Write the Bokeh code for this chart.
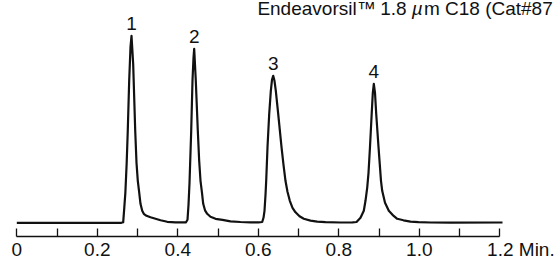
from bokeh.plotting import figure
from bokeh.models import Range1d, FixedTicker, Label, ColumnDataSource
from bokeh.core.properties import value
from bokeh.embed import file_html
from bokeh.resources import INLINE

# ---- data (time in min, signal in arbitrary units) ----
trace_time = [
    0.000, 0.100, 0.200, 0.260,
    0.2643, 0.2670, 0.2697, 0.2730, 0.2757, 0.2792, 0.2825, 0.2850,
    0.2891, 0.2942, 0.2974, 0.3006, 0.3036, 0.3073, 0.3116, 0.3155,
    0.3222, 0.3322, 0.3446, 0.3571, 0.3737, 0.3943, 0.4140,
    0.4204, 0.4241, 0.4266, 0.4291, 0.4333, 0.4365, 0.4390, 0.4407,
    0.4447, 0.4497, 0.4531, 0.4564, 0.4601, 0.4631, 0.4676, 0.4730,
    0.4812, 0.4937, 0.5110, 0.5309, 0.5558, 0.5806, 0.6005,
    0.6097, 0.6129, 0.6154, 0.6179, 0.6196, 0.6229, 0.6271, 0.6311,
    0.6340, 0.6370, 0.6402, 0.6435, 0.6494, 0.6576, 0.6626, 0.6675,
    0.6725, 0.6783, 0.6850, 0.6924, 0.7024, 0.7130, 0.7297, 0.7463,
    0.7670, 0.8042, 0.8340,
    0.8440, 0.8539, 0.8621, 0.8663, 0.8705, 0.8738, 0.8775, 0.8817,
    0.8845, 0.8870, 0.8899, 0.8929, 0.8986, 0.9048, 0.9078, 0.9148,
    0.9242, 0.9334, 0.9451, 0.9607, 0.9781, 0.9980, 1.0278, 1.0775,
    1.2067,
]
trace_signal = [
    0.0, 0.0, 0.0, 0.0,
    0.5, 15, 30, 60, 92, 142, 176, 187,
    159, 92, 60, 42, 32, 19, 12, 9,
    7, 5.5, 4, 2.5, 1, 0.5, 0.5,
    0.5, 3, 18, 40, 92, 142, 165, 174,
    142, 92, 62, 42, 30, 19, 12.5, 9,
    6, 4, 3, 1.5, 0.8, 0.5, 0.5,
    0.8, 5, 12, 28, 42, 76, 109, 132,
    143, 147, 142, 132, 109, 76, 58, 42,
    31, 22, 15, 10.5, 6.5, 4, 2.2, 1.2,
    0.6, 0.3, 0.5,
    0.8, 5, 12, 22, 35, 50, 76, 109,
    130, 139, 130, 109, 76, 42, 32, 20,
    12, 8, 4, 2.5, 1.2, 0.6, 0.3, 0.2,
    0.3,
]

peak_names = ["1", "2", "3", "4"]
peak_times = [0.2850, 0.4407, 0.6370, 0.8870]
peak_heights = [187, 174, 147, 139]

tick_values = [0, 0.2, 0.4, 0.6, 0.8, 1.0, 1.2]
tick_labels = ["0", "0.2", "0.4", "0.6", "0.8", "1.0", "1.2"]
minor_tick_values = [0.1, 0.3, 0.5, 0.7, 0.9, 1.1]
time_unit = "Min."

title_parts = ["Endeavorsil\u2122", "1.8", "\u00b5", "m C18 (Cat#87"]

FONT = "Liberation Sans"
INK = "#111111"

p = figure(
    width=558, height=262,
    output_backend="svg", toolbar_location=None,
    x_range=Range1d(-0.0405, 1.3458),
    y_range=Range1d(-13.7, 222.3),
    y_axis_location=None,
    min_border_left=0, min_border_right=0, min_border_top=0, min_border_bottom=26,
    background_fill_color="white", border_fill_color="white",
)
p.outline_line_color = None
p.grid.visible = False

# trace
p.line(trace_time, trace_signal, line_width=2.2, line_color=INK, line_join="round")

# peak numbers
src = ColumnDataSource(dict(x=peak_times, y=[h + 12.5 for h in peak_heights], t=peak_names))
p.text(x="x", y="y", text="t", source=src, text_align="center", text_baseline="middle",
       text_font=value(FONT), text_font_size="19px", text_color=INK)

# x axis; the unit follows the last tick label, padded so "1.2" stays centred on its tick
pad = "\u00a0" * 8
labels = list(tick_labels)
labels[-1] = pad + labels[-1] + " " + time_unit
ax = p.xaxis[0]
ax.ticker = FixedTicker(ticks=tick_values, minor_ticks=minor_tick_values)
ax.major_label_overrides = {v: s for v, s in zip(tick_values, labels)}
ax.bounds = (tick_values[0], tick_values[-1])
ax.axis_line_color = INK
ax.axis_line_width = 1.3
ax.major_tick_in = 8
ax.major_tick_out = 0
ax.minor_tick_in = 8
ax.minor_tick_out = 0
ax.major_tick_line_color = INK
ax.major_tick_line_width = 1.3
ax.minor_tick_line_color = INK
ax.minor_tick_line_width = 1.3
ax.major_label_standoff = 2
ax.major_label_text_font = FONT
ax.major_label_text_font_size = "19px"
ax.major_label_text_color = INK

# title (column name), cut by the right edge
title_x = [0.5977, 0.9029, 0.9815, 1.0114]
title_styles = ["normal", "normal", "italic", "normal"]
for tx, txt, st in zip(title_x, title_parts, title_styles):
    p.add_layout(Label(x=tx, y=214.8, text=txt, text_align="left", text_baseline="middle",
                       text_font=FONT, text_font_size="19px", text_font_style=st,
                       text_color=INK))

open("out.html", "w").write(file_html(p, INLINE))
